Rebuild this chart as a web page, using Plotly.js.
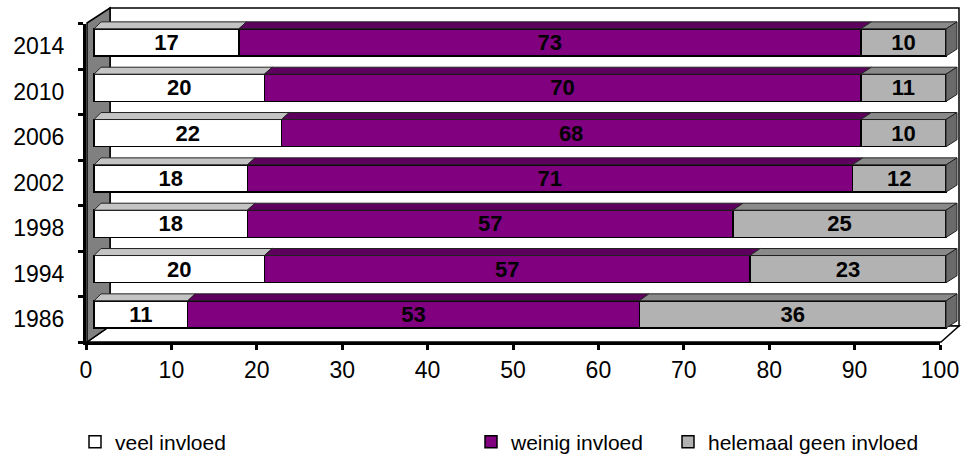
<!DOCTYPE html>
<html>
<head>
<meta charset="utf-8">
<script src="https://cdn.plot.ly/plotly-3.0.1.min.js"></script>
<style>html,body{margin:0;padding:0;background:#fff;}#chart{width:962px;height:456px;}</style>
</head>
<body>
<div id="chart"></div>
<script>
// ---- data ----
const years    = ['1986', '1994', '1998', '2002', '2006', '2010', '2014'];
const veel     = [11, 20, 18, 18, 22, 20, 17];   // veel invloed
const weinig   = [53, 57, 57, 71, 68, 70, 73];   // weinig invloed
const helemaal = [36, 23, 25, 12, 10, 11, 10];   // helemaal geen invloed
const seriesNames = ['veel invloed', 'weinig invloed', 'helemaal geen invloed'];
const xTickVals = [0, 10, 20, 30, 40, 50, 60, 70, 80, 90, 100];

// ---- geometry helpers (pixels -> paper) ----
const W = 962, H = 456;
const px = v => v / W;
const py = v => 1 - v / H;
const K = 8.52;          // px per unit on the bar axis
const X0 = 94;           // px of value 0 on the bar front face
const HALF = 0.3;        // half bar thickness (category units)
const CAT = 45.33;       // px per category on the bar axis
const dxAt = v => (7 + 4 * v / 100) / K;   // depth offset (x) in units
const DY = 7 / CAT;                       // depth offset (y) in units

const idx = years.map((_, i) => i);
const font = 'Arial, "Liberation Sans", sans-serif';

// the stacked 100% bar: last segment fills to 100
const restLen = idx.map(i => 100 - veel[i] - weinig[i]);

const frontColors = ['#FFFFFF', '#800080', '#B2B2B2'];
const topColors   = ['#C4C4C4', '#5E005E', '#8A8A8A'];
const sideColor   = '#6A6A6A';

const segLens = [veel, weinig, restLen];
const segText = [veel, weinig, helemaal];

const traces = segLens.map((arr, s) => ({
  type: 'bar', orientation: 'h',
  x: arr, y: idx, width: 0.6,
  name: seriesNames[s],
  legend: s === 0 ? 'legend' : (s === 1 ? 'legend2' : 'legend3'),
  text: segText[s], texttemplate: '%{text}',
  textposition: 'inside', insidetextanchor: 'middle', textangle: 0,
  constraintext: 'none',
  insidetextfont: {family: font, size: 22, color: '#000', weight: 'bold'},
  marker: {color: frontColors[s], line: {color: '#000', width: 1.5}},
  hoverinfo: 'skip', xaxis: 'x', yaxis: 'y'
}));
// dummy trace so the tick-axes subplot exists
traces.push({type: 'scatter', x: [null], y: [null], xaxis: 'x2', yaxis: 'y2',
  showlegend: false, hoverinfo: 'skip', mode: 'markers'});

// ---- shapes: walls / floor (decoration) ----
const shapes = [];
// back wall
shapes.push({type: 'path', xref: 'paper', yref: 'paper', layer: 'below',
  path: `M${px(110)},${py(8)} L${px(959)},${py(8)} L${px(959)},${py(326)} L${px(110)},${py(326)} Z`,
  fillcolor: '#FFFFFF', line: {color: '#000', width: 1.5}});
// floor
shapes.push({type: 'path', xref: 'paper', yref: 'paper', layer: 'below',
  path: `M${px(87)},${py(342)} L${px(110)},${py(326)} L${px(959)},${py(326)} L${px(941)},${py(342)} Z`,
  fillcolor: '#FFFFFF', line: {color: '#000', width: 1.5}});
// left wall
shapes.push({type: 'path', xref: 'paper', yref: 'paper', layer: 'below',
  path: `M${px(87)},${py(23)} L${px(110)},${py(8)} L${px(110)},${py(326)} L${px(87)},${py(342)} Z`,
  fillcolor: '#808080', line: {color: '#000', width: 1.5}});

// ---- shapes: bar tops and right side (3D look, from the data) ----
idx.forEach(i => {
  let start = 0;
  segLens.forEach((arr, s) => {
    const a = start, b = start + arr[i];
    const yb = i + HALF, yt = i + HALF + DY;
    shapes.push({type: 'path', xref: 'x', yref: 'y',
      path: `M${a},${yb} L${b},${yb} L${b + dxAt(b)},${yt} L${a + dxAt(a)},${yt} Z`,
      fillcolor: topColors[s], line: {color: '#222', width: 1}});
    start = b;
  });
  const e = start;
  shapes.push({type: 'path', xref: 'x', yref: 'y',
    path: `M${e},${i - HALF} L${e + dxAt(e)},${i - HALF + DY} L${e + dxAt(e)},${i + HALF + DY} L${e},${i + HALF} Z`,
    fillcolor: sideColor, line: {color: '#222', width: 1}});
});

const legendBase = {orientation: 'h', yanchor: 'middle', xanchor: 'left',
  bgcolor: 'rgba(0,0,0,0)', font: {family: font, size: 21, color: '#000'},
  y: py(442), itemclick: false, itemdoubleclick: false};

const layout = {
  width: W, height: H,
  margin: {l: 0, r: 0, t: 0, b: 0, pad: 0, autoexpand: false},
  paper_bgcolor: '#FFFFFF', plot_bgcolor: 'rgba(0,0,0,0)',
  barmode: 'stack',
  font: {family: font, color: '#000'},
  xaxis: {domain: [px(X0 - 0.5 * K), px(X0 + 101.5 * K)], range: [-0.5, 101.5],
    visible: false, fixedrange: true, anchor: 'y'},
  yaxis: {domain: [py(19.8 + 7 * CAT), py(19.8)], range: [-0.5, 6.5],
    visible: false, fixedrange: true, anchor: 'x'},
  xaxis2: {domain: [px(86), px(940)], range: [0, 100], anchor: 'y2',
    tickmode: 'array', tickvals: xTickVals, ticktext: xTickVals.map(String),
    ticks: 'outside', ticklen: 5, tickwidth: 3, tickcolor: '#000',
    ticklabelstandoff: 0,
    showline: true, linewidth: 3, linecolor: '#000', showgrid: false, zeroline: false,
    tickfont: {family: font, size: 23, color: '#000'}, fixedrange: true},
  yaxis2: {domain: [py(342), py(23.5)], range: [-0.5, 6.5], anchor: 'x2',
    tickmode: 'array', tickvals: idx, ticktext: years, ticks: '',
    minor: {tickmode: 'array', tickvals: [-0.5, 0.5, 1.5, 2.5, 3.5, 4.5, 5.5, 6.5],
      ticks: 'outside', ticklen: 5, tickwidth: 3, tickcolor: '#000', showgrid: false},
    showline: true, linewidth: 3, linecolor: '#000', showgrid: false, zeroline: false,
    ticklabelstandoff: 14,
    tickfont: {family: font, size: 23, color: '#000'}, fixedrange: true},
  legend: Object.assign({}, legendBase, {x: px(115 - 40)}),
  legend2: Object.assign({}, legendBase, {x: px(511 - 40)}),
  legend3: Object.assign({}, legendBase, {x: px(708 - 40)}),
  shapes: shapes,
  showlegend: true
};

Plotly.newPlot('chart', traces, layout, {displayModeBar: false, staticPlot: true});
</script>
</body>
</html>
